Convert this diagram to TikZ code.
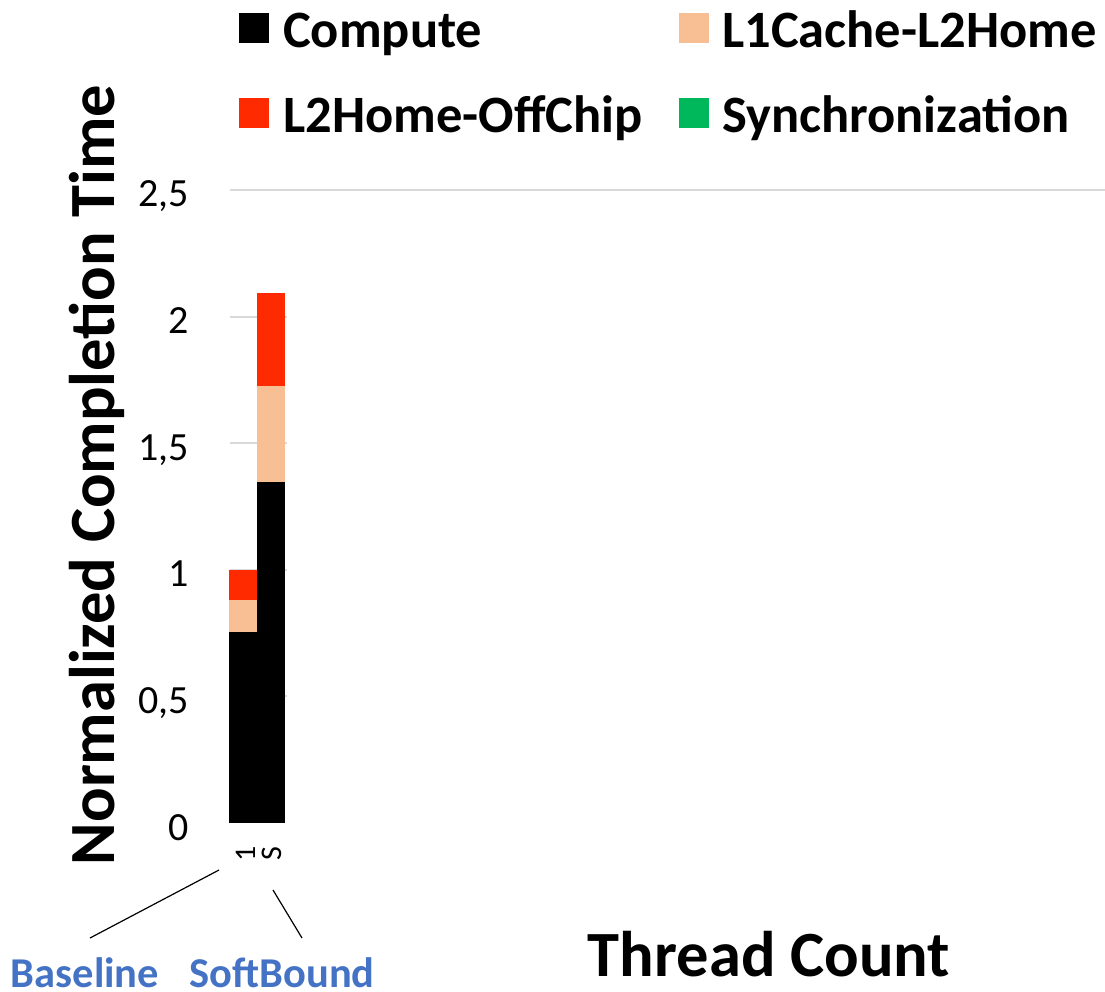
\documentclass[tikz,border=0pt]{standalone}
\usepackage{fontspec}
\setmainfont{Carlito}
\definecolor{computec}{HTML}{000000}
\definecolor{lonec}{HTML}{F8BF95}
\definecolor{ltwoc}{HTML}{FF2A00}
\definecolor{syncc}{HTML}{00B85C}
\definecolor{gridc}{HTML}{D9D9D9}
\definecolor{catblue}{HTML}{4472C4}
\begin{document}
\begin{tikzpicture}[x=1pt,y=-1pt,
  gridline/.style={draw=gridc,line width=2pt},
  legbox/.style={minimum size=30pt,inner sep=0pt,anchor=north west},
  legtext/.style={font=\bfseries\fontsize{52.5}{60}\selectfont,anchor=base west,inner sep=0pt},
  yticklab/.style={font=\fontsize{40}{48}\selectfont,anchor=base east,inner sep=0pt},
  xticklab/.style={font=\fontsize{30}{34}\selectfont,rotate=90,inner sep=0pt},
  axtitle/.style={font=\bfseries\fontsize{64.5}{72}\selectfont,anchor=base,inner sep=0pt},
  catlab/.style={font=\bfseries\fontsize{42.5}{48}\selectfont,text=catblue,anchor=base,inner sep=0pt},
  callout/.style={draw=black,line width=1.2pt}]
\useasboundingbox (0,0) rectangle (1105,992);

% value v sits at y = 823 - 253.2 v
% gridlines
\draw[gridline] (230,190) -- (1105,190);
\foreach \v in {0.5,1,1.5,2}{
  \draw[gridline] (230,{823-253.2*\v}) -- (287,{823-253.2*\v});
}

% y tick labels
\foreach \v/\t in {0/0,0.5/{0,5},1/1,1.5/{1,5},2/2,2.5/{2,5}}{
  \node[yticklab] at (189,{823-253.2*\v+17}) {\t};
}

% stacked bars: Baseline
\fill[computec] (229,823) rectangle (257,{823-253.2*0.755});
\fill[lonec]    (229,{823-253.2*0.755}) rectangle (257,{823-253.2*0.88});
\fill[ltwoc]    (229,{823-253.2*0.88}) rectangle (257,{823-253.2*1.0});
% stacked bars: SoftBound
\fill[computec] (257,823) rectangle (285,{823-253.2*1.347});
\fill[lonec]    (257,{823-253.2*1.347}) rectangle (285,{823-253.2*1.726});
\fill[ltwoc]    (257,{823-253.2*1.726}) rectangle (285,{823-253.2*2.093});

% category tick labels
\node[xticklab] (tb) at (246,854) {1};
\node[xticklab] (ts) at (272,854) {S};

% axis titles
\node[axtitle,rotate=90] (ytitle) at (114,475) {Normalized Completion Time};
\node[axtitle] (xtitle) at (769,976) {Thread Count};

% category names with callout lines
\node[catlab] (base) at (85,987) {Baseline};
\node[catlab] (soft) at (282,987) {SoftBound};
\coordinate (bA) at (219,870);
\coordinate (bB) at (90,938);
\coordinate (sA) at (273,890);
\coordinate (sB) at (302,938);
\draw[callout] (bA) -- (bB);
\draw[callout] (sA) -- (sB);

% legend
\node[legbox,fill=computec] (lg1) at (239,13) {};
\node[legtext] (lt1) at (283,48) {Compute};
\node[legbox,fill=lonec] (lg2) at (679,13) {};
\node[legtext] (lt2) at (722,48) {L1Cache-L2Home};
\node[legbox,fill=ltwoc] (lg3) at (239,98) {};
\node[legtext] (lt3) at (283,133) {L2Home-OffChip};
\node[legbox,fill=syncc] (lg4) at (679,98) {};
\node[legtext] (lt4) at (722,133) {Synchronization};
\end{tikzpicture}
\end{document}
